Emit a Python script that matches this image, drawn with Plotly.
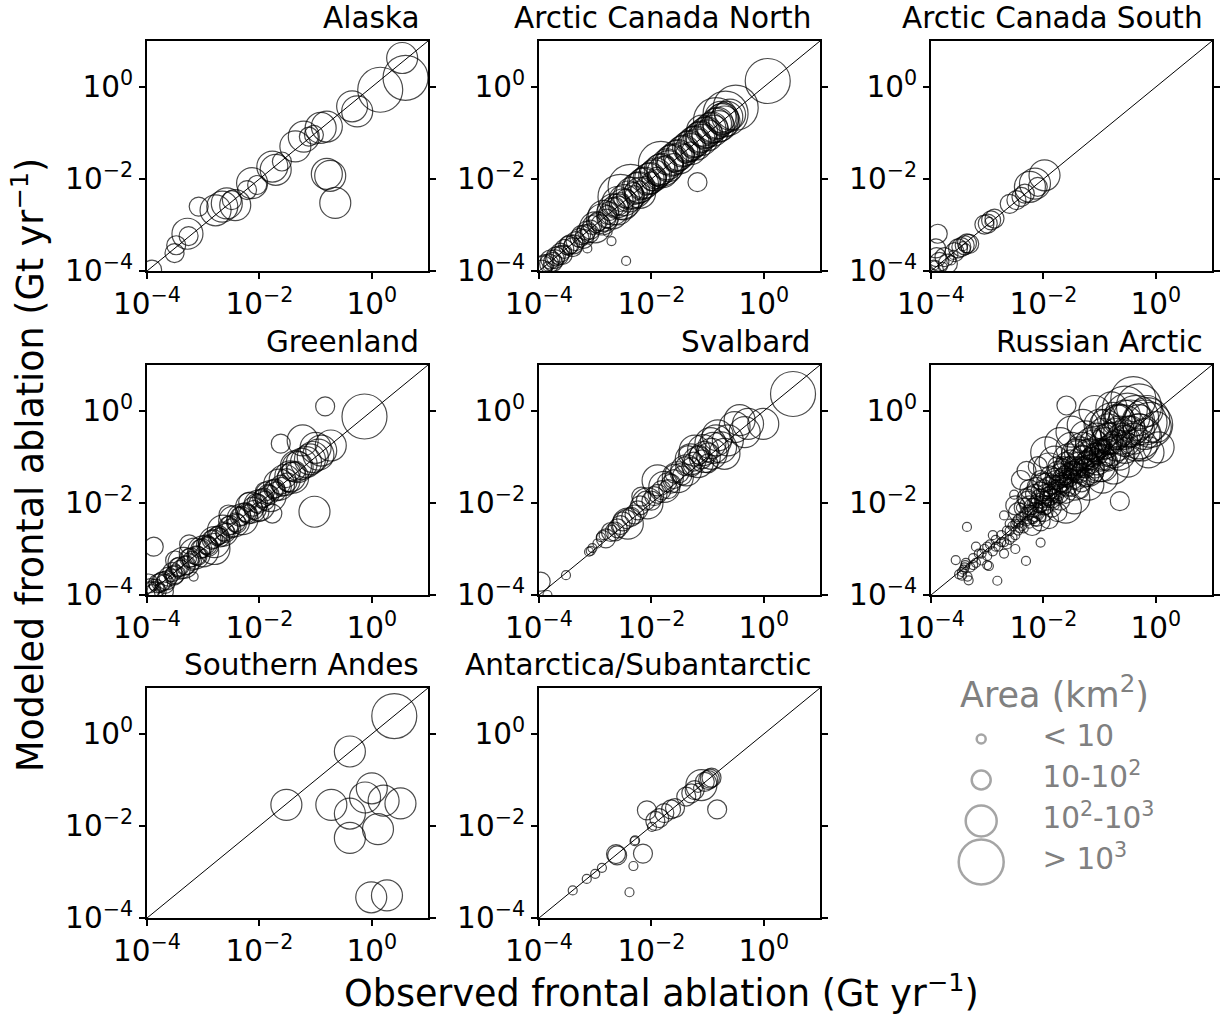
import numpy as np
import plotly.graph_objects as go

W, H = 1225, 1016
FONT = "DejaVu Sans"

REGIONS = ["Alaska", "Arctic Canada North", "Arctic Canada South", "Greenland",
           "Svalbard", "Russian Arctic", "Southern Andes", "Antarctica/Subantarctic"]

# Each entry: (log10 observed, log10 modeled, area class 1..4)
alaska = [(-3.91, -3.97, 2), (-3.51, -3.61, 2), (-3.48, -3.44, 2), (-3.28, -3.19, 3), (-3.26, -3.24, 2),
          (-3.08, -2.60, 2), (-2.78, -2.68, 3), (-2.66, -2.60, 3), (-2.58, -2.53, 3), (-2.49, -2.46, 2),
          (-2.43, -2.57, 3), (-2.22, -2.24, 2), (-2.13, -2.09, 3), (-2.04, -2.13, 2), (-1.77, -1.73, 3),
          (-1.71, -1.80, 3), (-1.60, -1.62, 2), (-1.36, -1.29, 3), (-1.21, -1.08, 3), (-1.12, -1.08, 2),
          (-1.03, -1.04, 2), (-0.91, -0.89, 3), (-0.80, -0.86, 3), (-0.80, -1.89, 3), (-0.74, -1.93, 3),
          (-0.65, -2.52, 3), (-0.35, -0.42, 3), (-0.26, -0.53, 3), (0.15, -0.06, 4), (0.54, 0.63, 3),
          (0.60, 0.20, 4)]

arctic_canada_north = [
    (-3.95, -3.97, 2), (-3.90, -3.85, 2), (-3.85, -3.90, 1), (-3.80, -3.75, 2), (-3.75, -3.80, 2),
    (-3.70, -3.68, 2), (-3.68, -3.75, 1), (-3.62, -3.60, 2), (-3.58, -3.65, 2), (-3.55, -3.52, 2),
    (-3.50, -3.55, 1), (-3.45, -3.42, 2), (-3.40, -3.48, 2), (-3.35, -3.35, 2), (-3.30, -3.38, 1),
    (-3.25, -3.22, 2), (-3.20, -3.30, 2), (-3.15, -3.12, 2), (-3.10, -3.18, 2), (-3.05, -3.00, 2),
    (-3.00, -3.05, 3), (-2.95, -2.92, 2), (-2.90, -2.98, 2), (-2.85, -2.80, 3), (-2.80, -2.86, 2),
    (-2.75, -2.70, 2), (-2.70, -2.75, 3), (-2.65, -2.60, 2), (-2.60, -2.66, 3), (-2.55, -2.50, 2),
    (-2.55, -2.39, 4), (-2.50, -2.55, 3), (-2.45, -2.42, 2), (-2.37, -2.17, 4), (-2.35, -2.30, 3),
    (-2.30, -2.35, 2), (-2.25, -2.20, 3), (-2.20, -2.25, 2), (-2.15, -2.10, 3), (-2.10, -2.15, 2),
    (-2.05, -2.00, 3), (-2.00, -2.05, 2), (-1.95, -1.92, 3), (-1.90, -1.95, 2), (-1.85, -1.80, 3),
    (-1.83, -1.67, 4), (-1.80, -1.85, 3), (-1.75, -1.70, 2), (-1.70, -1.72, 3), (-1.65, -1.60, 3),
    (-1.60, -1.65, 2), (-1.55, -1.50, 3), (-1.50, -1.55, 3), (-1.45, -1.40, 3), (-1.40, -1.45, 2),
    (-1.35, -1.30, 3), (-1.30, -1.35, 3), (-1.25, -1.20, 3), (-1.20, -1.25, 3), (-1.15, -1.10, 3),
    (-1.10, -1.15, 3), (-1.05, -1.00, 3), (-1.00, -1.05, 3), (-0.95, -0.90, 3), (-0.90, -0.95, 3),
    (-0.85, -0.80, 3), (-0.80, -0.85, 3), (-0.77, -0.65, 3), (-0.75, -0.70, 3), (-0.70, -0.75, 3),
    (-0.65, -0.65, 3), (-0.60, -0.60, 3), (-0.50, -0.45, 4), (0.07, 0.13, 4),
    (-1.18, -2.07, 2), (-2.78, -3.15, 1), (-2.71, -3.35, 1), (-3.14, -3.51, 1), (-2.45, -3.78, 1),
    (-3.92, -3.88, 2), (-3.82, -3.84, 2), (-3.72, -3.74, 2), (-3.64, -3.66, 2), (-3.48, -3.45, 2),
    (-3.38, -3.42, 2), (-3.28, -3.28, 2), (-3.18, -3.20, 2), (-3.08, -3.10, 2), (-2.98, -2.96, 2),
    (-2.88, -2.88, 3), (-2.78, -2.78, 2), (-2.68, -2.66, 3), (-2.58, -2.58, 2), (-2.48, -2.46, 3),
    (-2.40, -2.38, 3), (-2.32, -2.28, 2), (-2.22, -2.18, 3), (-2.12, -2.08, 3), (-2.02, -1.98, 3),
    (-1.92, -1.88, 3), (-1.82, -1.78, 3), (-1.72, -1.68, 3), (-1.62, -1.58, 3), (-1.52, -1.48, 3),
    (-1.42, -1.38, 3), (-1.32, -1.28, 3), (-1.22, -1.18, 3), (-1.12, -1.08, 3), (-1.02, -0.98, 3),
    (-0.92, -0.88, 3), (-0.82, -0.78, 3), (-0.72, -0.68, 3), (-0.68, -0.58, 4), (-0.85, -0.72, 4),
    (-1.10, -0.95, 3), (-1.30, -1.40, 2), (-1.90, -2.00, 2), (-2.60, -2.50, 3), (-2.20, -2.30, 3)]

arctic_canada_south = [
    (-1.98, -1.92, 3), (-2.15, -2.10, 3), (-2.24, -2.17, 3), (-2.10, -2.17, 2), (-2.33, -2.32, 2),
    (-2.39, -2.39, 2), (-2.48, -2.46, 2), (-2.60, -2.54, 2), (-2.93, -2.90, 2), (-2.99, -2.97, 2),
    (-3.05, -2.99, 2), (-2.87, -2.86, 2), (-2.96, -2.93, 1), (-3.40, -3.44, 2), (-3.46, -3.48, 2),
    (-3.38, -3.51, 1), (-3.52, -3.51, 2), (-3.58, -3.59, 2), (-3.32, -3.41, 2), (-3.88, -3.19, 2),
    (-3.91, -3.51, 2), (-3.76, -3.70, 2), (-3.85, -3.80, 2), (-3.70, -3.84, 2), (-3.94, -3.88, 1),
    (-3.64, -3.77, 1), (-3.79, -3.91, 1), (-3.95, -3.97, 2), (-3.60, -3.65, 1), (-3.43, -3.46, 1),
    (-3.36, -3.40, 2), (-3.90, -3.70, 2)]

greenland = [
    (-0.13, -0.12, 4), (-0.83, 0.10, 2), (-1.62, -0.71, 2), (-1.23, -0.64, 3), (-0.73, -0.75, 3),
    (-0.90, -0.86, 3), (-1.05, -1.00, 3), (-1.17, -1.11, 3), (-1.32, -1.22, 3), (-1.44, -1.32, 2),
    (-1.02, -2.19, 3), (-1.77, -2.23, 2), (-3.88, -2.95, 2), (-3.17, -3.60, 1),
    (-3.95, -3.92, 2), (-3.90, -3.98, 2), (-3.88, -3.80, 1), (-3.85, -3.86, 2), (-3.80, -3.75, 2),
    (-3.78, -3.85, 1), (-3.72, -3.70, 2), (-3.68, -3.76, 2), (-3.62, -3.60, 2), (-3.58, -3.62, 1),
    (-3.55, -3.50, 2), (-3.50, -3.55, 2), (-3.45, -3.40, 2), (-3.40, -3.45, 2), (-3.35, -3.30, 3),
    (-3.30, -3.35, 2), (-3.25, -3.20, 2), (-3.20, -3.26, 2), (-3.15, -3.10, 3), (-3.10, -3.15, 2),
    (-3.05, -3.00, 2), (-3.00, -3.05, 3), (-2.95, -2.90, 2), (-2.90, -2.95, 2), (-2.85, -2.80, 2),
    (-2.80, -2.85, 3), (-2.75, -2.72, 2), (-2.70, -2.75, 2), (-2.65, -2.60, 3), (-2.60, -2.65, 2),
    (-2.55, -2.50, 2), (-2.50, -2.55, 2), (-2.45, -2.40, 3), (-2.40, -2.45, 2), (-2.35, -2.30, 2),
    (-2.30, -2.35, 3), (-2.25, -2.20, 2), (-2.20, -2.25, 2), (-2.15, -2.10, 3), (-2.10, -2.15, 2),
    (-2.05, -2.00, 2), (-2.00, -2.05, 3), (-1.95, -1.90, 2), (-1.90, -1.95, 2), (-1.85, -1.80, 2),
    (-1.80, -1.85, 3), (-1.75, -1.70, 2), (-1.70, -1.75, 2), (-1.65, -1.60, 3), (-1.60, -1.65, 2),
    (-1.55, -1.50, 3), (-1.50, -1.55, 2), (-1.45, -1.42, 3), (-1.40, -1.45, 3), (-1.35, -1.30, 2),
    (-3.25, -2.90, 2), (-3.50, -3.25, 2), (-2.55, -2.25, 2), (-2.80, -3.00, 3), (-3.97, -3.75, 2),
    (-3.70, -3.92, 2), (-2.20, -1.98, 2), (-1.90, -1.75, 2), (-2.00, -2.20, 2),
    (-3.93, -3.85, 2), (-3.83, -3.92, 2), (-3.75, -3.72, 2), (-3.65, -3.68, 2), (-3.52, -3.58, 2),
    (-3.42, -3.38, 2), (-3.32, -3.36, 2), (-3.22, -3.18, 2), (-3.12, -3.14, 2), (-3.02, -2.98, 2),
    (-2.92, -2.92, 2), (-2.82, -2.78, 2), (-2.72, -2.70, 2), (-2.62, -2.62, 2), (-2.52, -2.48, 2),
    (-2.42, -2.42, 2), (-2.32, -2.28, 2), (-2.22, -2.22, 2), (-2.12, -2.08, 2), (-2.02, -2.02, 2),
    (-1.92, -1.88, 2), (-1.82, -1.82, 2), (-1.72, -1.68, 2), (-1.62, -1.60, 2), (-1.52, -1.46, 2),
    (-1.25, -1.15, 3), (-1.10, -1.05, 3), (-0.95, -0.95, 3), (-1.00, -0.80, 3), (-1.35, -1.20, 3),
    (-3.60, -3.55, 1), (-3.40, -3.50, 1), (-3.20, -3.22, 1), (-3.00, -3.10, 1), (-2.70, -2.80, 1)]

svalbard = [
    (0.52, 0.37, 4), (-0.01, -0.28, 3), (-0.28, -0.28, 3), (-0.43, -0.20, 3), (-0.34, -0.46, 3),
    (-0.52, -0.35, 3), (-0.64, -0.64, 3), (-0.76, -0.79, 3), (-0.85, -0.64, 3), (-0.93, -0.93, 3),
    (-1.05, -1.00, 3), (-1.17, -1.11, 3), (-1.29, -1.22, 2), (-1.38, -1.29, 3), (-1.53, -1.44, 3),
    (-1.65, -1.58, 2), (-1.77, -1.65, 3), (-1.89, -1.80, 2), (-2.07, -2.01, 3), (-2.18, -1.86, 2),
    (-2.24, -2.16, 2), (-2.42, -2.45, 3), (-2.36, -2.30, 2), (-2.51, -2.40, 2), (-2.60, -2.55, 2),
    (-2.72, -2.63, 2), (-2.81, -2.77, 2), (-2.90, -2.74, 1), (-2.96, -2.88, 1), (-3.08, -3.04, 1),
    (-3.11, -3.06, 1), (-3.52, -3.57, 1), (-3.97, -3.71, 2), (-3.85, -4.00, 1),
    (-1.23, -0.86, 3), (-1.35, -0.96, 2), (-0.99, -1.14, 2), (-0.70, -0.93, 3), (-0.82, -0.53, 3),
    (-1.89, -1.51, 3), (-1.59, -1.36, 2), (-1.10, -1.05, 2), (-1.45, -1.40, 2), (-1.70, -1.70, 2),
    (-2.00, -1.95, 2), (-2.30, -2.25, 2), (-2.65, -2.62, 2), (-0.90, -0.80, 3), (-1.00, -0.90, 2),
    (-1.15, -0.95, 2), (-1.25, -1.10, 2), (-1.40, -1.20, 2), (-1.50, -1.35, 2), (-1.60, -1.48, 2),
    (-1.72, -1.55, 2), (-1.82, -1.72, 2), (-1.95, -1.85, 2), (-2.10, -1.95, 2), (-2.20, -2.05, 2),
    (-2.45, -2.35, 2), (-2.55, -2.48, 2), (-1.08, -0.85, 3), (-1.30, -1.05, 3), (-0.95, -0.70, 3),
    (-2.85, -2.70, 1), (-3.05, -2.98, 1), (-2.70, -2.58, 1)]

russian_arctic = [
    (-3.50, -3.55, 1), (-3.45, -3.50, 1), (-3.42, -3.45, 1), (-3.38, -3.30, 1), (-3.30, -3.40, 1),
    (-3.25, -3.20, 1), (-3.20, -3.30, 1), (-3.15, -3.10, 1), (-3.10, -3.25, 1), (-3.05, -3.00, 1),
    (-3.00, -3.15, 1), (-2.95, -2.90, 1), (-2.90, -3.05, 1), (-2.85, -2.80, 1), (-2.80, -2.95, 1),
    (-2.75, -2.70, 1), (-2.70, -2.85, 1), (-2.65, -2.60, 1), (-2.60, -2.80, 1), (-2.55, -2.50, 1),
    (-2.50, -2.70, 1), (-2.48, -2.40, 1), (-2.45, -2.60, 1), (-2.40, -2.30, 1), (-2.38, -2.50, 1),
    (-3.20, -2.95, 1), (-2.90, -2.70, 1), (-2.60, -2.45, 1), (-2.70, -3.10, 1), (-2.50, -3.00, 1),
    (-3.35, -3.60, 1), (-3.00, -3.35, 1),
    (-3.36, -2.52, 1), (-3.56, -3.24, 1), (-3.39, -3.35, 1), (-3.33, -3.68, 1), (-2.82, -3.69, 1),
    (-2.97, -3.37, 1), (-2.31, -3.26, 1), (-2.05, -2.86, 1), (-2.70, -2.27, 1), (-2.52, -1.82, 1),
    (-1.59, 0.12, 2), (-0.64, -1.96, 2), (-0.13, -0.90, 3), (0.00, -0.35, 3), (-0.40, 0.26, 4),
    (-0.79, 0.08, 3), (-1.09, 0.00, 3), (0.05, -0.79, 3),
    (-2.35, -2.10, 2), (-2.30, -2.40, 1), (-2.28, -1.95, 2), (-2.25, -2.25, 2), (-2.20, -2.00, 1),
    (-2.20, -2.50, 2), (-2.15, -1.80, 2), (-2.12, -2.30, 2), (-2.10, -2.10, 1), (-2.05, -1.90, 2),
    (-2.05, -2.40, 2), (-2.00, -1.70, 2), (-2.00, -2.20, 2), (-1.95, -2.00, 1), (-1.95, -1.55, 2),
    (-1.90, -1.85, 2), (-1.90, -2.35, 2), (-1.85, -1.60, 2), (-1.85, -2.10, 2), (-1.80, -1.45, 2),
    (-1.80, -1.90, 1), (-1.75, -1.70, 2), (-1.75, -2.20, 2), (-1.70, -1.35, 2), (-1.70, -1.95, 2),
    (-1.65, -1.60, 2), (-1.65, -1.25, 2), (-1.60, -1.80, 2), (-1.60, -2.10, 3), (-1.55, -1.45, 2),
    (-1.55, -1.05, 3), (-1.50, -1.65, 2), (-1.50, -1.30, 2), (-1.45, -1.90, 3), (-1.45, -1.20, 2),
    (-1.40, -1.50, 2), (-1.40, -0.95, 3), (-1.35, -1.35, 2), (-1.35, -1.70, 2), (-1.30, -1.10, 3),
    (-1.30, -0.80, 3), (-1.25, -1.45, 2), (-1.25, -1.25, 2), (-1.20, -0.95, 3), (-1.20, -1.60, 3),
    (-1.15, -1.15, 2), (-1.15, -0.70, 3), (-1.10, -1.35, 2), (-1.10, -0.90, 2), (-1.05, -1.05, 3),
    (-1.05, -0.60, 3), (-1.00, -1.20, 3), (-1.00, -0.80, 2), (-0.95, -1.45, 3), (-0.95, -0.50, 3),
    (-0.90, -0.95, 3), (-0.90, -0.70, 3), (-0.85, -1.10, 2), (-0.85, -0.40, 3), (-0.80, -0.85, 3),
    (-0.80, -0.60, 3), (-0.75, -1.25, 3), (-0.75, -0.30, 4), (-0.70, -0.75, 3), (-0.70, -0.50, 3),
    (-0.65, -0.95, 3), (-0.65, -0.20, 3), (-0.60, -0.60, 3), (-0.60, -0.35, 4), (-0.55, -0.80, 3),
    (-0.55, -0.10, 3), (-0.50, -0.45, 3), (-0.50, -1.10, 3), (-0.45, -0.25, 4), (-0.40, -0.60, 3),
    (-0.35, -0.15, 4), (-0.30, -0.40, 3), (-0.25, -0.75, 3), (-0.20, -0.25, 4), (-0.20, -0.50, 3),
    (-0.15, 0.00, 3), (-0.10, -0.30, 4), (-0.30, 0.10, 4), (-0.55, 0.05, 4), (-1.00, -0.30, 3),
    (-1.25, -0.55, 3), (-1.50, -0.80, 3), (-1.80, -1.10, 3), (-2.05, -1.50, 2), (-2.25, -1.70, 2),
    (-1.60, -1.10, 2), (-1.40, -1.25, 2), (-2.40, -2.10, 1), (-1.90, -1.25, 3), (-1.75, -1.20, 2),
    (-2.40, -1.50, 2), (-2.30, -1.30, 2), (-2.10, -1.20, 2), (-1.95, -0.90, 3), (-1.70, -0.70, 3),
    (-1.50, -0.45, 3), (-1.30, -0.30, 3),
    (-2.35, -2.55, 1), (-2.30, -2.20, 1), (-2.25, -2.45, 1), (-2.20, -2.15, 1), (-2.18, -2.35, 1),
    (-2.15, -2.00, 1), (-2.10, -2.25, 1), (-2.08, -1.95, 1), (-2.02, -2.10, 1), (-1.98, -1.85, 1),
    (-1.95, -2.15, 1), (-1.92, -1.75, 1), (-1.88, -2.00, 1), (-1.85, -1.70, 1), (-1.80, -2.05, 1),
    (-1.78, -1.60, 1), (-1.72, -1.85, 1), (-1.68, -1.50, 1), (-1.62, -1.75, 1), (-1.58, -1.40, 1),
    (-2.60, -2.60, 1), (-2.55, -2.75, 1), (-2.50, -2.45, 1), (-2.45, -2.35, 1), (-2.42, -2.55, 1),
    (-2.65, -2.90, 1), (-2.75, -2.85, 1), (-2.85, -2.95, 1), (-3.00, -2.95, 1), (-3.10, -3.10, 1),
    (-3.25, -3.35, 1), (-3.40, -3.40, 1), (-3.45, -3.58, 1),
    (-2.30, -1.90, 2), (-2.25, -2.05, 2), (-2.15, -2.20, 2), (-2.05, -1.75, 2), (-1.98, -2.05, 2),
    (-1.92, -1.65, 2), (-1.85, -1.90, 2), (-1.78, -1.50, 2), (-1.72, -1.80, 2), (-1.68, -1.55, 2),
    (-1.62, -1.40, 2), (-1.58, -1.65, 2), (-1.52, -1.20, 2), (-1.48, -1.50, 2), (-1.42, -1.35, 2),
    (-1.38, -1.10, 2), (-1.32, -1.55, 2), (-1.28, -1.20, 2), (-1.22, -1.05, 2), (-1.18, -1.40, 2),
    (-1.12, -1.00, 2), (-1.08, -1.25, 2), (-1.02, -0.95, 2), (-0.98, -1.10, 2), (-0.92, -0.85, 2),
    (-0.88, -1.00, 2), (-2.45, -2.20, 2), (-2.50, -2.05, 2),
    (-1.45, -1.60, 3), (-1.35, -0.90, 3), (-1.20, -1.30, 3), (-1.10, -0.75, 3), (-0.95, -1.20, 3),
    (-0.85, -0.60, 3), (-0.75, -0.90, 3), (-0.65, -0.45, 3), (-0.55, -0.65, 3), (-0.45, -0.45, 3),
    (-0.35, -0.75, 3), (-0.30, -0.20, 3), (-0.70, -0.20, 3), (-0.90, -0.30, 3),
    (-0.30, -0.55, 4), (-0.50, -0.10, 4), (-0.15, -0.20, 4),
    (-2.22, -1.85, 2), (-2.12, -1.65, 2), (-2.02, -1.55, 2), (-1.88, -1.40, 2), (-1.76, -1.30, 2),
    (-1.64, -1.20, 2), (-1.52, -1.05, 2), (-1.42, -0.85, 2), (-1.30, -0.95, 2), (-1.18, -0.85, 2),
    (-2.18, -2.10, 2), (-2.08, -2.00, 2), (-1.96, -1.80, 2), (-1.86, -1.75, 2), (-1.74, -1.60, 2),
    (-1.66, -1.45, 2), (-1.56, -1.35, 2), (-1.46, -1.30, 2), (-1.36, -1.20, 2), (-1.26, -1.10, 2),
    (-1.16, -1.00, 2), (-1.06, -0.90, 2), (-0.96, -0.80, 2), (-0.86, -0.75, 2), (-0.76, -0.65, 2),
    (-2.14, -2.40, 1), (-2.04, -2.30, 1), (-1.94, -1.95, 1), (-1.84, -1.80, 1), (-1.74, -1.95, 1),
    (-1.64, -1.65, 1), (-1.54, -1.55, 1), (-1.44, -1.45, 1), (-2.28, -2.28, 1), (-2.44, -2.45, 1)]

southern_andes = [
    (-1.52, -1.54, 3), (-0.39, -0.38, 3), (0.40, 0.39, 4), (-0.72, -1.54, 3), (-0.39, -1.73, 3),
    (-0.39, -2.26, 3), (-0.12, -1.38, 3), (0.00, -1.18, 3), (0.21, -1.45, 3), (0.11, -2.07, 3),
    (0.51, -1.51, 3), (-0.01, -3.55, 3), (0.27, -3.51, 3)]

antarctica = [
    (-3.40, -3.40, 1), (-3.15, -3.15, 1), (-3.00, -3.04, 1), (-2.88, -2.91, 1), (-2.63, -2.61, 2),
    (-2.61, -2.64, 2), (-2.15, -2.60, 2), (-2.32, -2.87, 1), (-2.39, -3.44, 1), (-2.29, -2.31, 1),
    (-2.30, -2.33, 1), (-2.08, -1.66, 2), (-1.99, -2.02, 1), (-1.93, -1.89, 2), (-1.86, -1.83, 2),
    (-1.77, -1.72, 2), (-1.65, -1.64, 2), (-1.58, -1.61, 2), (-1.38, -1.36, 2), (-1.29, -1.29, 2),
    (-1.23, -1.22, 2), (-1.17, -1.17, 1), (-1.11, -1.11, 3), (-0.99, -1.00, 2), (-0.96, -0.97, 2),
    (-0.93, -0.95, 2), (-0.83, -1.64, 2), (-1.05, -1.04, 2)]

PANEL_DATA = [alaska, arctic_canada_north, arctic_canada_south, greenland,
              svalbard, russian_arctic, southern_andes, antarctica]

AREA_CLASSES = [1, 2, 3, 4]
AREA_LABELS = ["&lt; 10", "10-10<sup>2</sup>", "10<sup>2</sup>-10<sup>3</sup>", "&gt; 10<sup>3</sup>"]
TICK_VALS = [1e-4, 1e-2, 1e0]
TICK_TEXT = ["10<sup>−4</sup>", "10<sup>−2</sup>", "10<sup>0</sup>"]

# ---- style / layout ----
SIZE = {1: 9, 2: 19, 3: 31, 4: 45}
COL_LEFT = [147, 539, 931]
ROW_TOP = [41, 365, 688]
PW, PH = 281, 230
FS = 29.5


def xdom(c):
    return [COL_LEFT[c] / W, (COL_LEFT[c] + PW) / W]


def ydom(r):
    return [1 - (ROW_TOP[r] + PH) / H, 1 - ROW_TOP[r] / H]


fig = go.Figure()
layout = dict(width=W, height=H, margin=dict(l=0, r=0, t=0, b=0, autoexpand=False),
              paper_bgcolor="white", plot_bgcolor="white", showlegend=False,
              font=dict(family=FONT, color="black", size=FS))
annotations = []
shapes = []

for i, (name, data) in enumerate(zip(REGIONS, PANEL_DATA)):
    r, c = divmod(i, 3)
    k = i + 1
    obs = 10 ** np.array([d[0] for d in data])
    mod = 10 ** np.array([d[1] for d in data])
    cls = [d[2] for d in data]
    fig.add_trace(go.Scatter(
        x=obs, y=mod, mode="markers", xaxis=f"x{k}", yaxis=f"y{k}",
        marker=dict(size=[SIZE[v] for v in cls], color="rgba(0,0,0,0)",
                    line=dict(color="black", width=1.2)),
        cliponaxis=True, hoverinfo="skip"))
    axcommon = dict(type="log", range=[-4, 1], tickvals=TICK_VALS, ticktext=TICK_TEXT,
                    ticks="outside", ticklen=6, tickwidth=2, tickcolor="black",
                    showline=True, linewidth=2, linecolor="black", showgrid=False,
                    zeroline=False, automargin=False,
                    tickfont=dict(family=FONT, size=FS, color="black"))
    layout[f"xaxis{k}"] = dict(axcommon, domain=xdom(c), anchor=f"y{k}", mirror=True)
    layout[f"yaxis{k}"] = dict(axcommon, domain=ydom(r), anchor=f"x{k}", mirror="ticks")
    xr = "x" if k == 1 else f"x{k}"
    yr = "y" if k == 1 else f"y{k}"
    shapes.append(dict(type="line", xref=f"{xr} domain", yref=f"{yr} domain",
                       x0=0, y0=0, x1=1, y1=1, line=dict(color="black", width=1), layer="below"))
    annotations.append(dict(text=name, xref="paper", yref="paper",
                            x=xdom(c)[1], y=ydom(r)[1], xanchor="right", yanchor="bottom",
                            xshift=-7, yshift=4, showarrow=False,
                            font=dict(family=FONT, size=FS, color="black")))

# legend panel (size classes)
GRAY = "#808080"
fig.add_trace(go.Scatter(
    x=[0] * len(AREA_CLASSES), y=list(range(len(AREA_CLASSES))), mode="markers",
    xaxis="x9", yaxis="y9",
    marker=dict(size=[SIZE[v] for v in AREA_CLASSES], color="rgba(0,0,0,0)",
                line=dict(color=GRAY, width=2.5)),
    cliponaxis=False, hoverinfo="skip"))
fig.add_trace(go.Scatter(
    x=[1] * len(AREA_CLASSES), y=list(range(len(AREA_CLASSES))), mode="text",
    xaxis="x9", yaxis="y9", text=AREA_LABELS, textposition="middle right",
    textfont=dict(family=FONT, size=FS, color=GRAY), cliponaxis=False, hoverinfo="skip"))
layout["xaxis9"] = dict(domain=xdom(2), range=[-0.82, 3.77], visible=False, anchor="y9",
                        automargin=False)
layout["yaxis9"] = dict(domain=ydom(2), range=[4.366, -1.244], visible=False, anchor="x9",
                        automargin=False)
annotations.append(dict(text="Area (km<sup>2</sup>)", xref="paper", yref="paper",
                        x=1054 / W, y=1 - 692 / H, xanchor="center", yanchor="middle",
                        showarrow=False, font=dict(family=FONT, size=35, color=GRAY)))

# shared axis titles
annotations.append(dict(text="Observed frontal ablation (Gt yr<sup>−1</sup>)", xref="paper",
                        yref="paper", x=661 / W, y=1 - 991 / H, xanchor="center",
                        yanchor="middle", showarrow=False,
                        font=dict(family=FONT, size=36.5, color="black")))
annotations.append(dict(text="Modeled frontal ablation (Gt yr<sup>−1</sup>)", xref="paper",
                        yref="paper", x=28 / W, y=1 - 465 / H, xanchor="center",
                        yanchor="middle", textangle=-90, showarrow=False,
                        font=dict(family=FONT, size=36.5, color="black")))

layout["annotations"] = annotations
layout["shapes"] = shapes
fig.update_layout(**layout)
fig.write_html("out.html", config={"displayModeBar": False},
               post_script="document.body.style.margin='0px';")
